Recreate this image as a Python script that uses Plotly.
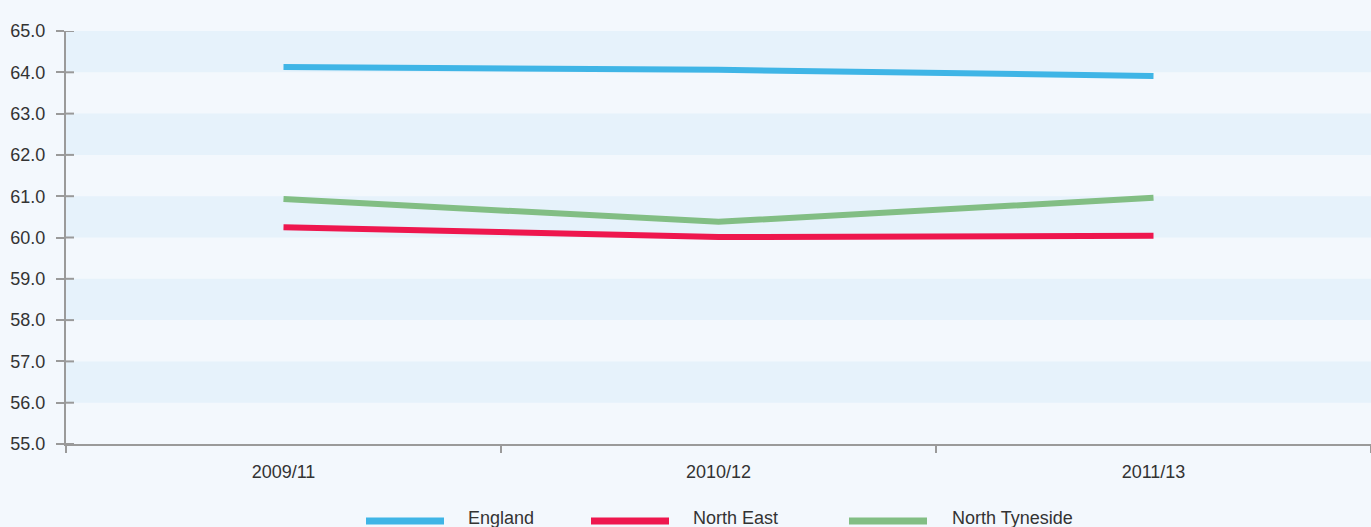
import plotly.graph_objects as go

# Data
periods = ["2009/11", "2010/12", "2011/13"]
england = [64.13, 64.06, 63.91]
north_east = [60.25, 60.01, 60.04]
north_tyneside = [60.93, 60.38, 60.96]

series_names = ["England", "North East", "North Tyneside"]
series_values = [england, north_east, north_tyneside]
series_colors = ["#3FB5E6", "#EE174E", "#82BE84"]

y_ticks = [55, 56, 57, 58, 59, 60, 61, 62, 63, 64, 65]

W, H = 1371, 527
ML, MR, MT, MB = 66, 0, 31, 83
PW, PH = W - ML - MR, H - MT - MB

BG = "#F3F8FD"
BAND = "#E6F2FB"
AXIS = "#9A9A9A"
TEXT = "#333333"
FONT_SIZE = 18

fig = go.Figure()
for name, vals, col in zip(series_names, series_values, series_colors):
    fig.add_trace(go.Scatter(
        x=periods, y=vals, mode="lines", name=name,
        line=dict(color=col, width=6), showlegend=False,
        cliponaxis=False,
    ))

shapes = []
# alternating horizontal bands
for lo in y_ticks[1:-1:2]:
    shapes.append(dict(type="rect", xref="paper", yref="y", x0=0, x1=1,
                       y0=lo, y1=lo + 1, fillcolor=BAND, line_width=0, layer="below"))
# inner half of y tick marks (crossing the axis line)
for t in y_ticks:
    shapes.append(dict(type="line", xref="paper", yref="y", x0=0, x1=8 / PW,
                       y0=t, y1=t, line=dict(color=AXIS, width=2), layer="above"))

# legend drawn under the plot
annotations = []
legend_items = [(366, 466), (591, 691), (849, 950)]
for (x_sym, x_txt), name, col in zip(legend_items, series_names, series_colors):
    y_sym = -(521 - (MT + PH)) / PH
    shapes.append(dict(type="line", xref="paper", yref="paper",
                       x0=(x_sym - ML) / PW, x1=(x_sym + 78 - ML) / PW,
                       y0=y_sym, y1=y_sym,
                       line=dict(color=col, width=7)))
    annotations.append(dict(xref="paper", yref="paper",
                            x=(x_txt - ML) / PW, y=-(518 - (MT + PH)) / PH,
                            text=name, showarrow=False, xanchor="left", yanchor="middle",
                            font=dict(size=FONT_SIZE, color=TEXT)))

fig.update_layout(
    width=W, height=H,
    margin=dict(l=ML, r=MR, t=MT, b=MB),
    paper_bgcolor=BG, plot_bgcolor=BG,
    font=dict(family="Liberation Sans, Arial, sans-serif", size=FONT_SIZE, color=TEXT),
    shapes=shapes, annotations=annotations,
    xaxis=dict(
        type="category", range=[-0.5, 2.5], tickson="boundaries",
        ticks="outside", ticklen=7, tickwidth=2, tickcolor=AXIS,
        showline=True, linecolor=AXIS, linewidth=2,
        showgrid=False, zeroline=False, ticklabelstandoff=10,
    ),
    yaxis=dict(
        range=[55, 65], tickvals=y_ticks, ticktext=[f"{v:.1f}" for v in y_ticks],
        ticks="outside", ticklen=8, tickwidth=2, tickcolor=AXIS,
        showline=True, linecolor=AXIS, linewidth=2,
        showgrid=False, zeroline=False, ticklabelstandoff=7,
    ),
)

fig.write_html("out.html")
